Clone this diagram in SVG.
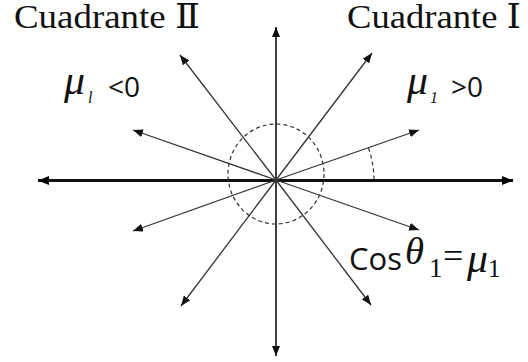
<svg xmlns="http://www.w3.org/2000/svg" width="528" height="362" viewBox="0 0 528 362">
<style>
.ray{stroke:#333;stroke-width:1.3;fill:none}
.axis{stroke:#111;stroke-width:1.6;fill:none}
.dash{stroke:#333;stroke-width:1.2;fill:none;stroke-dasharray:4 3}
.serif{font-family:"Liberation Serif","DejaVu Serif",serif;fill:#111}
.sans{font-family:"Open Sans","Liberation Sans",sans-serif;fill:#111}
.it{font-style:italic}
</style>
<defs>
<marker id="ah" viewBox="0 0 10 8" refX="10" refY="4" markerWidth="10" markerHeight="8" markerUnits="userSpaceOnUse" orient="auto">
<path d="M0,0 L10,4 L0,8 Z" fill="#111"/>
</marker>
<marker id="ahb" viewBox="0 0 11 9" refX="11" refY="4.5" markerWidth="11" markerHeight="9" markerUnits="userSpaceOnUse" orient="auto">
<path d="M0,0 L11,4.5 L0,9 Z" fill="#000"/>
</marker>
</defs>
<g id="connectors">
<line class="axis" x1="276" y1="180.5" x2="38" y2="180.5" style="stroke-width:3" marker-end="url(#ahb)"/>
<line class="axis" x1="276" y1="180.5" x2="513" y2="180.5" style="stroke-width:3" marker-end="url(#ahb)"/>
<line class="axis" x1="276" y1="180" x2="276" y2="27" marker-end="url(#ah)"/>
<line class="axis" x1="276" y1="180" x2="276" y2="356" marker-end="url(#ah)"/>
<line class="ray" x1="276" y1="180" x2="372" y2="53" marker-end="url(#ah)"/>
<line class="ray" x1="276" y1="180" x2="419" y2="130" marker-end="url(#ah)"/>
<line class="ray" x1="276" y1="180" x2="419" y2="230" marker-end="url(#ah)"/>
<line class="ray" x1="276" y1="180" x2="371" y2="305" marker-end="url(#ah)"/>
<line class="ray" x1="276" y1="180" x2="180" y2="55" marker-end="url(#ah)"/>
<line class="ray" x1="276" y1="180" x2="133" y2="130" marker-end="url(#ah)"/>
<line class="ray" x1="276" y1="180" x2="133" y2="231" marker-end="url(#ah)"/>
<line class="ray" x1="276" y1="180" x2="181" y2="306" marker-end="url(#ah)"/>
<ellipse class="dash" cx="276" cy="174" rx="48" ry="50"/>
<path class="dash" d="M368.5,148 A98,98 0 0 1 374,180"/>
</g>
<g id="labels">
<text class="serif" x="14" y="28" font-size="33" textLength="186" lengthAdjust="spacingAndGlyphs">Cuadrante Ⅱ</text>
<text class="serif" x="347" y="28" font-size="33" textLength="174" lengthAdjust="spacingAndGlyphs">Cuadrante Ⅰ</text>
<text class="serif it" x="64" y="94" font-size="40" textLength="21" lengthAdjust="spacingAndGlyphs">μ</text>
<text class="serif it" x="88" y="103" font-size="16">l</text>
<text class="sans" x="108" y="97" font-size="28">&lt;0</text>
<text class="serif it" x="407" y="94" font-size="40" textLength="21" lengthAdjust="spacingAndGlyphs">μ</text>
<text class="serif it" x="430" y="103" font-size="16">1</text>
<text class="sans" x="451" y="97" font-size="28">&gt;0</text>
<text class="sans" x="349" y="270" font-size="31">Cos</text>
<text class="serif it" x="405" y="264" font-size="38" textLength="19" lengthAdjust="spacingAndGlyphs">θ</text>
<text class="serif" x="429" y="277" font-size="27">1</text>
<text class="serif" x="443" y="268" font-size="36">=</text>
<text class="serif it" x="467" y="272" font-size="40" textLength="21" lengthAdjust="spacingAndGlyphs">μ</text>
<text class="serif" x="488" y="277" font-size="25">1</text>
</g>
</svg>
